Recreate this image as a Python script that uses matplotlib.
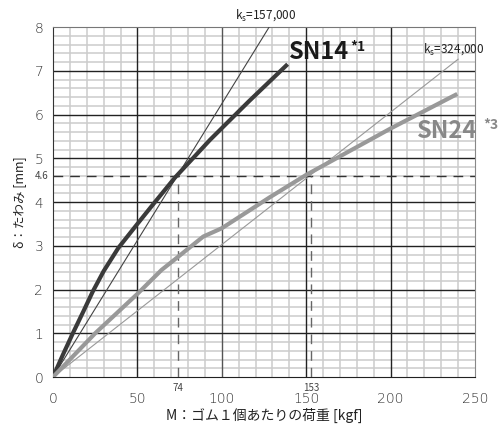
import numpy as np
import matplotlib
matplotlib.use("Agg")
import matplotlib.pyplot as plt

plt.rcParams['font.family'] = ['Noto Sans CJK JP', 'DejaVu Sans']

# SN14 measured curve (load kgf, deflection mm)
sn14_load = [0, 6, 12, 18, 23.5, 30, 38.7, 50, 60, 72.3, 93, 116, 139]
sn14_defl = [0, 0.52, 1.02, 1.5, 1.95, 2.42, 2.95, 3.5, 3.98, 4.56, 5.42, 6.3, 7.15]

# SN24 measured curve
sn24_load = [0, 25, 50, 64.4, 74.2, 89, 100, 128.5, 150, 200, 239.5]
sn24_defl = [0, 1.0, 1.9, 2.45, 2.75, 3.21, 3.40, 4.11, 4.62, 5.68, 6.47]

# spring constants [N/m]
ks_values = [157000, 324000]
ks_ends = [140, 240]
ref_defl = 4.6
ref_loads = [74, 153]
g = 9.80665

fig = plt.figure(figsize=(5.02, 4.26), dpi=100)
ax = fig.add_axes([0.1056, 0.115, 0.8406, 0.8216])

ax.set_xlim(0, 250)
ax.set_ylim(0, 8)
xmajor = np.arange(0, 251, 50)
ymajor = np.arange(0, 9, 1)
ax.set_xticks(xmajor)
ax.set_xticks(np.arange(0, 251, 10), minor=True)
ax.set_yticks(ymajor)
ax.set_yticks(np.arange(0, 8.01, 0.2), minor=True)
ax.grid(which='minor', color='#cccccc', lw=1.1)
ax.set_axisbelow(True)
# major grid drawn on top of the minor one
for xv in xmajor[1:-1]:
    ax.axvline(xv, color='#555555' if xv == 100 else '#222222', lw=1.0,
               zorder=1)
for yv in ymajor[1:-1]:
    ax.axhline(yv, color='#222222', lw=1.0, zorder=1)

ax.tick_params(which='both', length=0)
ax.tick_params(axis='x', pad=11, colors='#333333')
ax.tick_params(axis='y', pad=7, colors='#333333')
for lab in ax.get_xticklabels() + ax.get_yticklabels():
    lab.set_family('DejaVu Sans')
    lab.set_fontsize(10)
    lab.set_fontweight('light')
ax.spines['left'].set_color('#333333')
ax.spines['bottom'].set_color('#222222')
ax.spines['top'].set_color('#777777')
ax.spines['right'].set_color('#888888')

# spring constant lines
ks_colors = ['#444444', '#999999']
for ks, xe, c in zip(ks_values, ks_ends, ks_colors):
    xx = np.array([0, xe])
    ax.plot(xx, xx * g / (ks / 1000.0), color=c, lw=0.8, zorder=3)

# measured curves
ax.plot(sn14_load, sn14_defl, color='#3a3a3a', lw=3, zorder=4,
        solid_capstyle='butt', solid_joinstyle='round')
ax.plot(sn24_load, sn24_defl, color='#999999', lw=3, zorder=4,
        solid_capstyle='butt', solid_joinstyle='round')

# reference dashed lines
ax.plot([0, 250], [ref_defl, ref_defl], color='#333333', lw=1,
        dashes=(7, 5), zorder=3)
for xl in ref_loads:
    ax.plot([xl, xl], [0, ref_defl], color='#666666', lw=1,
            dashes=(7, 5), zorder=3)
    ax.text(xl, -0.14, str(xl), ha='center', va='top', fontsize=7,
            color='#444444', clip_on=False)
ax.text(-2.5, ref_defl, '4.6', ha='right', va='center', fontsize=7,
        color='#444444', clip_on=False)

# annotations
ax.text(107.8, 8.2, r'k$_\mathregular{s}$=157,000', fontsize=8.5,
        color='#222222', clip_on=False)
ax.text(219.4, 7.41, r'k$_\mathregular{s}$=324,000', fontsize=8.5,
        color='#222222', clip_on=False)
ax.text(140, 7.26, 'SN14', fontsize=17, fontweight='bold', color='#1a1a1a',
        zorder=5)
ax.text(176, 7.7, '*1', fontsize=10, fontweight='bold', color='#1a1a1a',
        va='top', zorder=5)
ax.text(215.4, 5.46, 'SN24', fontsize=17, fontweight='bold', color='#888888',
        zorder=5, clip_on=False)
ax.text(255, 5.92, '*3', fontsize=10, fontweight='bold', color='#888888',
        va='top', zorder=5, clip_on=False)

ax.set_xlabel('M：ゴム１個あたりの荷重 [kgf]', fontsize=10, color='#222222',
              labelpad=1)
ax.set_ylabel('δ：たわみ [mm]', fontsize=9, color='#222222', labelpad=6)

fig.savefig('out.png', dpi=100)
